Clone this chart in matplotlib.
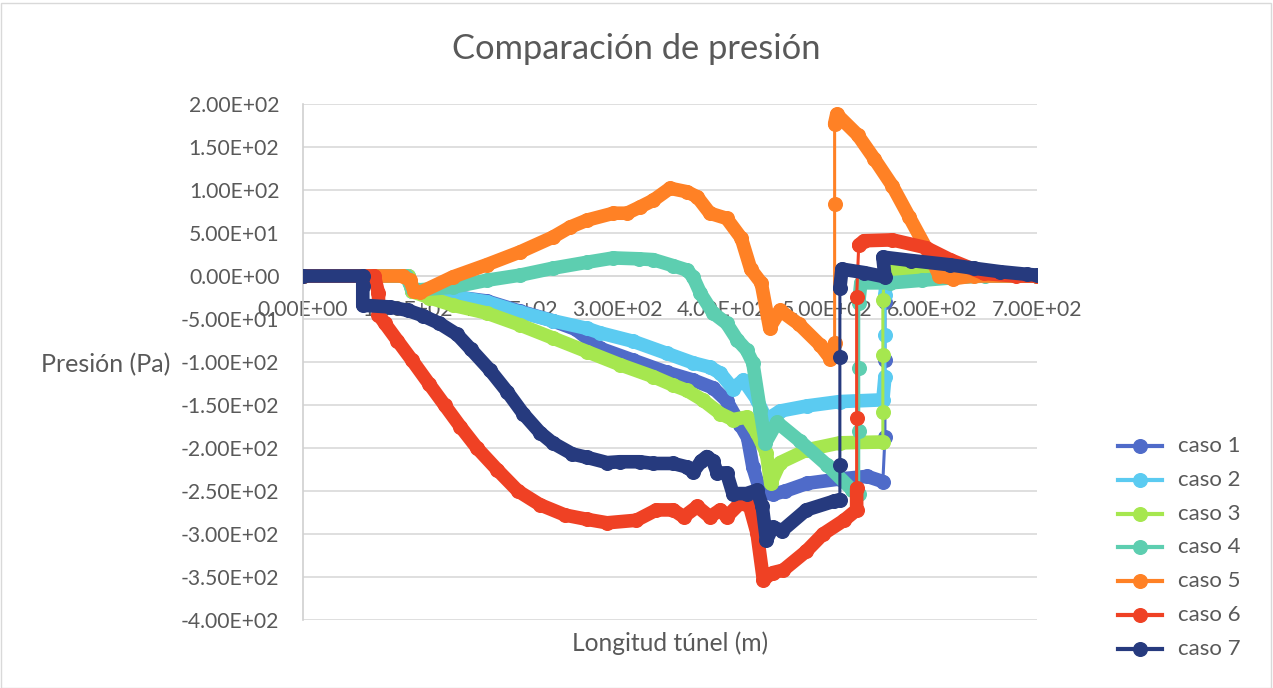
import matplotlib
matplotlib.use("Agg")
import matplotlib.pyplot as plt
from matplotlib.lines import Line2D
from matplotlib.patches import Rectangle
from matplotlib.ticker import FuncFormatter, MultipleLocator
import numpy as np

plt.rcParams['font.family'] = ['Lato', 'DejaVu Sans']

# ---------------- data ----------------
series_names = ["caso 1", "caso 2", "caso 3", "caso 4", "caso 5", "caso 6", "caso 7"]
series_colors = ["#4F6BC9", "#5BCBF1", "#A6E74F", "#5DCEB0", "#FF8125", "#EF4124", "#263A7E"]

x_caso1 = [0, 100, 104, 120, 150, 175, 207, 238, 260, 283, 315, 347, 372, 391, 404, 417, 424, 429, 436,
           448, 460, 481, 512, 538, 553, 555, 555, 555, 557, 580, 610, 640, 700]
p_caso1 = [0, 0, -17, -20, -25, -29, -41, -52, -62, -84, -98, -112, -121, -130, -145, -173, -188, -222, -250,
           -254, -250, -241, -236, -233, -239, -187, -98, -30, 10, 6, 3, 1, 0]

x_caso2 = [0, 100, 104, 120, 150, 175, 207, 238, 271, 283, 315, 347, 372, 388, 398, 410, 420, 433, 442,
           455, 481, 512, 553, 555, 555, 555, 557, 580, 610, 640, 700]
p_caso2 = [0, 0, -17, -20, -25, -30, -42, -52, -61, -66, -76, -90, -101, -106, -113, -131, -121, -144, -167,
           -157, -151, -146, -144, -117, -69, -22, 5, 4, 2, 1, 0]

x_caso3 = [0, 100, 104, 120, 143, 175, 207, 238, 271, 302, 334, 353, 366, 381, 398, 410, 423, 433, 442,
           446, 455, 481, 512, 553, 553, 553, 553, 555, 580, 610, 640, 700]
p_caso3 = [0, 0, -18, -25, -34, -43, -57, -72, -88, -103, -117, -127, -133, -144, -160, -167, -164, -183, -206,
           -241, -217, -202, -194, -193, -158, -92, -28, 8, 6, 3, 1, 0]

x_caso4 = [0, 98, 104, 112, 143, 175, 207, 238, 271, 296, 320, 334, 353, 366, 372, 379, 391, 404, 414, 423,
           429, 436, 441, 452, 474, 500, 524, 530, 530, 530, 530, 532, 560, 590, 620, 650, 700]
p_caso4 = [0, 0, -15, -16, -13, -5, 1, 9, 16, 21, 20, 19, 12, 7, -1, -20, -43, -55, -74, -86,
           -101, -156, -194, -170, -192, -220, -249, -253, -180, -107, -31, -8, -8, -5, -2, 0, 0]

x_caso5 = [0, 95, 102, 106, 112, 143, 175, 207, 238, 255, 271, 296, 309, 321, 334, 350, 366, 376, 388, 404,
           418, 427, 437, 445, 455, 473, 493, 503, 507, 507, 507, 509, 529, 545, 562, 578, 594, 607, 620, 640, 700]
p_caso5 = [0, 0, -5, -18, -19, -1, 13, 28, 45, 57, 65, 73, 73, 80, 88, 102, 98, 92, 73, 67,
           44, 8, -8, -60, -40, -56, -80, -96, -78, 84, 177, 188, 164, 136, 105, 69, 33, 0, -3, 0, 0]

x_caso6 = [0, 68, 72, 72, 78, 90, 104, 120, 135, 150, 166, 185, 205, 226, 250, 271, 290, 318, 337, 353,
           363, 376, 388, 398, 404, 417, 426, 433, 439, 448, 458, 480, 496, 516, 528, 528, 528, 528, 530,
           535, 562, 594, 617, 649, 680, 700]
p_caso6 = [0, 0, -20, -45, -55, -75, -98, -125, -150, -175, -200, -225, -250, -266, -278, -283, -287, -284, -272, -272,
           -280, -268, -280, -272, -280, -264, -268, -299, -353, -345, -342, -320, -300, -284, -272, -247, -165, -24, 36,
           41, 42, 33, 19, 3, 0, 0]

x_caso7 = [0, 57, 57, 57, 83, 100, 114, 130, 147, 160, 178, 195, 210, 226, 238, 257, 271, 290, 302, 321,
           334, 353, 366, 372, 380, 385, 391, 395, 404, 410, 423, 433, 438, 442, 448, 457, 480, 506, 512, 512,
           512, 512, 514, 535, 555, 553, 580, 617, 640, 665, 690, 700]
p_caso7 = [0, 0, -12, -34, -36, -40, -46, -55, -68, -85, -109, -135, -160, -182, -194, -207, -211, -217, -216, -216,
           -218, -218, -222, -228, -215, -210, -215, -229, -229, -253, -253, -249, -268, -307, -292, -296, -272, -262, -260, -220,
           -94, -14, 8, 4, -1, 22, 18, 13, 9, 5, 2, 1]

x_series = [x_caso1, x_caso2, x_caso3, x_caso4, x_caso5, x_caso6, x_caso7]
p_series = [p_caso1, p_caso2, p_caso3, p_caso4, p_caso5, p_caso6, p_caso7]

title_text = "Comparación de presión"
x_label = "Longitud túnel (m)"
y_label = "Presión (Pa)"

# ---------------- figure ----------------
W, H, DPI = 1273, 688, 100
fig = plt.figure(figsize=(W / DPI, H / DPI), dpi=DPI)
fig.patch.set_facecolor("white")
fig.add_artist(Rectangle((0.5 / W, 0.5 / H), 1 - 3 / W, 1 - 3 / H, transform=fig.transFigure,
                         fill=False, edgecolor="#D9D9D9", linewidth=1.0))

left, right, top, bottom = 303 / W, 1037 / W, 1 - 104 / H, 1 - 620 / H
ax = fig.add_axes([left, bottom, right - left, top - bottom])

TXT = "#595959"
band_pt = 9.8
thin_pt = 2.2

for i, (xs, ps) in enumerate(zip(x_series, p_series)):
    col = series_colors[i]
    xs = np.asarray(xs, float)
    ps = np.asarray(ps, float)
    # thick band along densely sampled stretches; long near-vertical jumps stay thin
    xt, yt = [xs[0]], [ps[0]]
    for k in range(1, len(xs)):
        dx, dy = abs(xs[k] - xs[k - 1]), abs(ps[k] - ps[k - 1])
        if dx <= 3 and dy * 0.86 > 30:
            xt.append(np.nan); yt.append(np.nan)
        xt.append(xs[k]); yt.append(ps[k])
    z = 2 + i
    ax.plot(xt, yt, color=col, lw=band_pt, solid_capstyle="round", solid_joinstyle="round", zorder=z)
    ax.plot(xs, ps, color=col, lw=thin_pt, marker="o", ms=band_pt, mec=col, mfc=col, zorder=z)

ax.set_xlim(0, 700)
ax.set_ylim(-400, 200)
ax.yaxis.set_major_locator(MultipleLocator(50))
ax.xaxis.set_major_locator(MultipleLocator(100))
fmt = FuncFormatter(lambda v, pos: "%.2E" % v)
ax.xaxis.set_major_formatter(fmt)
ax.yaxis.set_major_formatter(fmt)
ax.grid(axis="y", color="#D9D9D9", lw=1.2, zorder=0)
ax.set_axisbelow(True)
for s in ["top", "right"]:
    ax.spines[s].set_visible(False)
ax.spines["bottom"].set_position(("data", 0))
ax.spines["bottom"].set_color("#D9D9D9")
ax.spines["bottom"].set_linewidth(1.2)
ax.spines["left"].set_color("#D0D0D0")
ax.spines["left"].set_linewidth(1.2)
ax.tick_params(axis="both", length=0, labelsize=15.2, labelcolor=TXT)
ax.tick_params(axis="x", pad=17)
ax.tick_params(axis="y", pad=17)

fig.text(636 / W, 1 - 49 / H, title_text, ha="center", va="center", fontsize=24.8, color=TXT)
fig.text(106 / W, 1 - 365 / H, y_label, ha="center", va="center", fontsize=18, color=TXT)
fig.text(670 / W, 1 - 643 / H, x_label, ha="center", va="center", fontsize=17.7, color=TXT)

# legend, laid out entry by entry in figure pixels
leg_x0, leg_x1, leg_tx = 1118, 1162, 1178
leg_y0, leg_dy = 446, 33.8
for i, (name, col) in enumerate(zip(series_names, series_colors)):
    yy = 1 - (leg_y0 + i * leg_dy) / H
    fig.add_artist(Line2D([leg_x0 / W, leg_x1 / W], [yy, yy], transform=fig.transFigure,
                          color=col, lw=3))
    fig.add_artist(Line2D([(leg_x0 + leg_x1) / 2 / W], [yy], transform=fig.transFigure,
                          color=col, marker="o", ms=band_pt, lw=0))
    fig.text(leg_tx / W, yy, name, ha="left", va="center", fontsize=16, color=TXT)

fig.savefig("out.png", dpi=DPI, facecolor="white")
